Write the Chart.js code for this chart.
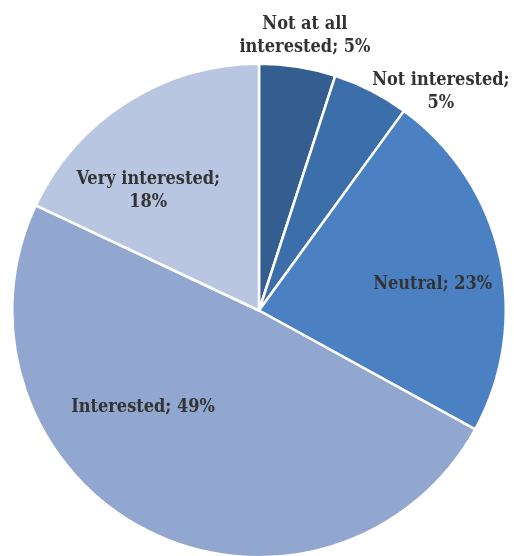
<!DOCTYPE html>
<html lang="en">
<head>
  <meta charset="UTF-8" />
  <title>Interest</title>
  <script src="https://cdn.jsdelivr.net/npm/chart.js"></script>
  <style>
    html, body {
      margin: 0;
      padding: 0;
      background: #fff;
    }
    .wrap {
      width: 514px;
      height: 556px;
      overflow: hidden;
    }
  </style>
</head>
<body>
  <div class="wrap">
    <canvas id="pie" width="514" height="562"></canvas>
  </div>

  <script>
    const categories = ['Not at all interested', 'Not interested', 'Neutral', 'Interested', 'Very interested'];
    const shares = [5, 5, 23, 49, 18];
    const colors = ['#335e8f', '#3c6fa9', '#4b80c2', '#91a7d0', '#b9c6e1'];

    // label block centre, in units of the pie radius from the pie centre
    const labelOffsets = [[0.186, -1.113], [0.737, -0.887], [0.704, -0.105], [-0.470, 0.393], [-0.449, -0.486]];
    // wrap width for each label (px)
    const labelWrap = [145, 155, 300, 300, 170];

    const FONT = 'bold 18px "DejaVu Serif Condensed", "DejaVu Serif", serif';

    function wrapText(ctx, text, maxW) {
      const words = text.split(' ');
      const lines = [];
      let line = '';
      words.forEach(w => {
        const test = line ? line + ' ' + w : w;
        if (ctx.measureText(test).width > maxW && line) {
          lines.push(line);
          line = w;
        } else {
          line = test;
        }
      });
      lines.push(line);
      return lines;
    }

    const sliceLabels = {
      id: 'sliceLabels',
      afterDatasetsDraw(chart) {
        const ctx = chart.ctx;
        const arcs = chart.getDatasetMeta(0).data;
        ctx.save();
        ctx.font = FONT;
        ctx.fillStyle = '#333333';
        ctx.textAlign = 'center';
        ctx.textBaseline = 'middle';
        arcs.forEach((arc, i) => {
          const r = arc.outerRadius;
          const cx = arc.x + labelOffsets[i][0] * r;
          const cy = arc.y + labelOffsets[i][1] * r;
          const text = categories[i] + '; ' + shares[i] + '%';
          const lines = wrapText(ctx, text, labelWrap[i]);
          const lh = 23;
          lines.forEach((ln, k) => {
            ctx.fillText(ln, cx, cy + (k - (lines.length - 1) / 2) * lh);
          });
        });
        ctx.restore();
      }
    };

    new Chart(document.getElementById('pie'), {
      type: 'pie',
      data: {
        labels: categories,
        datasets: [{
          data: shares,
          backgroundColor: colors,
          borderColor: '#ffffff',
          borderWidth: 2.5
        }]
      },
      options: {
        responsive: false,
        animation: false,
        layout: { padding: { top: 62, left: 11, right: 7, bottom: 3 } },
        plugins: {
          legend: { display: false },
          tooltip: { enabled: false }
        }
      },
      plugins: [sliceLabels]
    });
  </script>
</body>
</html>
